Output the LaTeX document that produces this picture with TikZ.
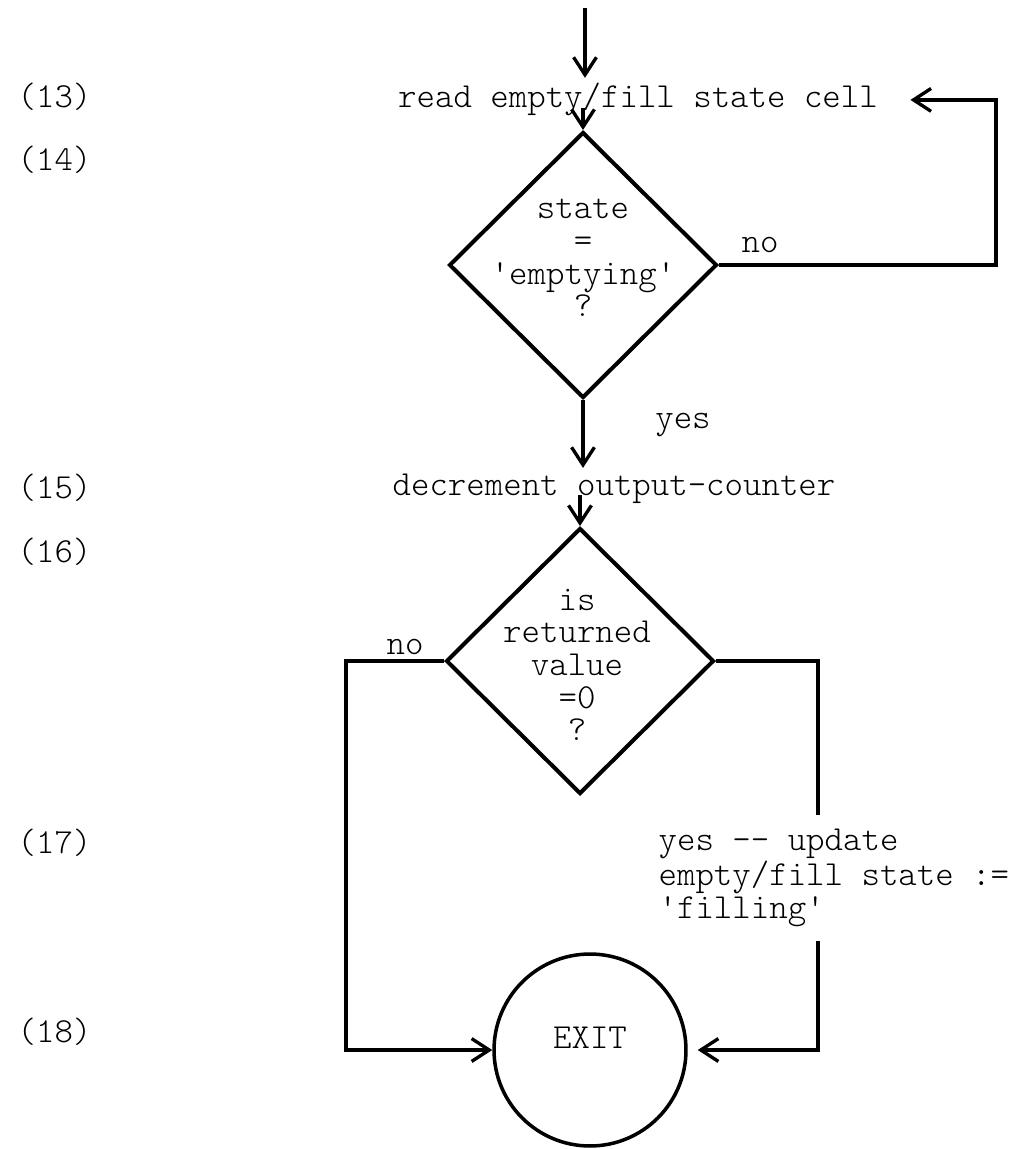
\documentclass[tikz,border=0pt]{standalone}
\usetikzlibrary{shapes.geometric,arrows.meta}
\begin{document}
\begin{tikzpicture}[x=0.02cm,y=-0.02cm,
   font=\ttfamily\fontseries{l}\fontsize{20}{18.6}\selectfont,
   txt/.style={inner sep=3pt},
   decision/.style={diamond,draw,line width=2.3pt,inner sep=0pt,minimum width=5.36cm,minimum height=5.32cm},
   line/.style={line width=1.9pt},
   arr/.style={line width=1.9pt,-{Straight Barb[length=10pt,width=13pt]}}]
   \useasboundingbox (0,0) rectangle (1029,1149);
   \node[txt,anchor=west] (n13) at (12,97) {(13)};
   \node[txt,anchor=west] (n14) at (12,160) {(14)};
   \node[txt,anchor=west] (n15) at (12,488) {(15)};
   \node[txt,anchor=west] (n16) at (12,552) {(16)};
   \node[txt,anchor=west] (n17) at (12,843) {(17)};
   \node[txt,anchor=west] (n18) at (12,1032) {(18)};
   \coordinate (start) at (585,8);
   \node[txt,anchor=base] (read) at (638,108) {read empty/fill state cell};
   \node[decision] (q1) at (583,265) {};
   \node[align=center] (q1t) at (583,258) {state\\=\\\textquotesingle emptying\textquotesingle\\?};
   \node[txt] (no1) at (760,245) {no};
   \node[txt] (yes1) at (683,425) {yes};
   \node[txt,anchor=base] (dec) at (614,495) {decrement output-counter};
   \node[decision] (q2) at (580,661) {};
   \node[align=center] (q2t) at (577,665) {is\\returned\\value\\=0\\?};
   \node[txt] (no2) at (405,647) {no};
   \node[txt,inner ysep=8pt,align=left,anchor=west] (upd) at (653,878)
      {yes -{}- update\\empty/fill state :=\\\textquotesingle filling\textquotesingle};
   \node[draw,circle,line width=2pt,minimum size=3.84cm] (exit) at (590,1050) {\raisebox{0.5cm}{EXIT}};
   \draw[arr] (start) -- (start |- read.north);
   \draw[arr] (q1.north |- read.base) -- (q1.north);
   \draw[arr] (q1.east) -- ++(277,0) |- ([xshift=0.54cm]read.east);
   \draw[arr] (q1.south) -- (q1.south |- dec.north);
   \draw[arr] (q2.north |- dec.base) -- (q2.north);
   \draw[arr] (q2.west) -- ++(-98,0) |- (exit.west);
   \coordinate (rside) at (818,661);
   \draw[line] (q2.east) -- (rside) -- (rside |- upd.north);
   \draw[arr,shorten >=0.2cm] (rside |- upd.south) |- (exit.east);
\end{tikzpicture}
\end{document}
